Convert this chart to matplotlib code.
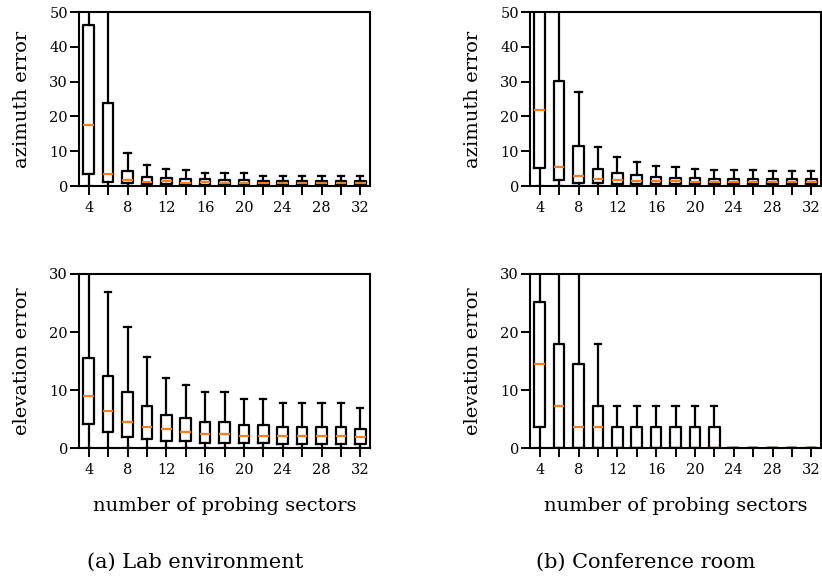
import matplotlib
matplotlib.use('Agg')
import matplotlib.pyplot as plt

# numero de sectores (posicion de cada caja)
positions = [4, 6, 8, 10, 12, 14, 16, 18, 20, 22, 24, 26, 28, 30, 32]
tick_labels = ['4', '', '8', '', '12', '', '16', '', '20', '', '24', '', '28', '', '32']

# (a) Lab environment - azimuth
lab_az_lo = [0, 0, 0, 0, 0, 0, 0, 0, 0, 0, 0, 0, 0, 0, 0]
lab_az_q1 = [3.5, 1.1, 0.8, 0.6, 0.5, 0.4, 0.4, 0.3, 0.3, 0.3, 0.3, 0.3, 0.3, 0.3, 0.3]
lab_az_med = [17.4, 3.5, 1.7, 1.2, 1.4, 0.95, 1.2, 0.9, 0.9, 0.95, 0.95, 0.95, 0.95, 0.95, 0.95]
lab_az_q3 = [46.4, 23.9, 4.4, 2.7, 2.2, 2.0, 2.0, 1.8, 1.8, 1.5, 1.5, 1.5, 1.5, 1.5, 1.5]
lab_az_hi = [80, 60, 9.4, 5.9, 5.0, 4.5, 3.7, 3.7, 3.7, 2.8, 2.8, 2.8, 2.8, 2.8, 2.8]

# (a) Lab environment - elevation
lab_el_lo = [0, 0, 0, 0, 0, 0, 0, 0, 0, 0, 0, 0, 0, 0, 0]
lab_el_q1 = [4.1, 2.8, 1.9, 1.5, 1.2, 1.2, 0.9, 0.9, 0.8, 0.8, 0.7, 0.7, 0.7, 0.7, 0.7]
lab_el_med = [8.9, 6.4, 4.4, 3.6, 3.2, 2.8, 2.5, 2.4, 2.1, 2.1, 2.0, 2.0, 2.0, 2.0, 1.95]
lab_el_q3 = [15.6, 12.5, 9.6, 7.3, 5.7, 5.2, 4.4, 4.4, 4.0, 4.0, 3.7, 3.7, 3.7, 3.7, 3.3]
lab_el_hi = [35, 26.9, 20.9, 15.7, 12.1, 10.8, 9.6, 9.6, 8.4, 8.4, 7.7, 7.7, 7.7, 7.7, 6.9]

# (b) Conference room - azimuth
conf_az_lo = [0, 0, 0, 0, 0, 0, 0, 0, 0, 0, 0, 0, 0, 0, 0]
conf_az_q1 = [5.3, 1.7, 1.0, 0.9, 0.7, 0.6, 0.5, 0.5, 0.5, 0.5, 0.5, 0.5, 0.5, 0.5, 0.5]
conf_az_med = [21.8, 5.4, 2.9, 2.0, 1.7, 1.5, 1.4, 1.3, 1.2, 1.2, 1.2, 1.2, 1.2, 1.2, 1.2]
conf_az_q3 = [70, 30.3, 11.6, 5.0, 3.7, 3.2, 2.5, 2.3, 2.2, 2.1, 2.1, 2.1, 2.1, 2.1, 2.1]
conf_az_hi = [100, 60, 27.0, 11.2, 8.3, 6.9, 5.8, 5.4, 4.9, 4.6, 4.5, 4.5, 4.3, 4.3, 4.3]

# (b) Conference room - elevation
conf_el_lo = [0, 0, 0, 0, 0, 0, 0, 0, 0, 0, 0, 0, 0, 0, 0]
conf_el_q1 = [3.6, 0, 0, 0, 0, 0, 0, 0, 0, 0, 0, 0, 0, 0, 0]
conf_el_med = [14.4, 7.2, 3.6, 3.6, 0, 0, 0, 0, 0, 0, 0, 0, 0, 0, 0]
conf_el_q3 = [25.2, 18.0, 14.4, 7.2, 3.6, 3.6, 3.6, 3.6, 3.6, 3.6, 0, 0, 0, 0, 0]
conf_el_hi = [40, 40, 40, 18.0, 7.2, 7.2, 7.2, 7.2, 7.2, 7.2, 0, 0, 0, 0, 0]

plt.rcParams['font.family'] = ['DejaVu Serif']
plt.rcParams['font.size'] = 11


def makeStats(lo, q1, med, q3, hi):
    # arma la lista de diccionarios que pide bxp
    stats = []
    for i in range(len(med)):
        stats.append({'whislo': lo[i], 'q1': q1[i], 'med': med[i],
                      'q3': q3[i], 'whishi': hi[i], 'fliers': []})
    return stats


def drawBox(ax, stats, ymax, ylabel, xlabel=None):
    black = dict(color='black', linewidth=1.6)
    ax.bxp(stats, positions=positions, widths=1.1, capwidths=0.65,
           showfliers=False,
           boxprops=black, whiskerprops=black, capprops=black,
           medianprops=dict(color='#ff7f0e', linewidth=1.6))
    ax.set_xlim(3, 33)
    ax.set_ylim(0, ymax)
    ax.set_yticks(range(0, ymax + 1, 10))
    ax.set_xticks(positions)
    ax.set_xticklabels(tick_labels)
    ax.set_ylabel(ylabel, fontsize=14)
    ax.yaxis.set_label_coords(-0.165, 0.5)
    if xlabel:
        ax.set_xlabel(xlabel, fontsize=14)
        ax.xaxis.set_label_coords(0.5, -0.28)
    ax.tick_params(axis='x', direction='out', length=6.5, width=1.4, pad=4, labelsize=10.5)
    ax.tick_params(axis='y', direction='out', length=6.5, width=1.4, pad=1.5, labelsize=10.5)
    for s in ax.spines.values():
        s.set_linewidth(1.5)
    return


fig = plt.figure(figsize=(8.22, 5.8), dpi=100)

ax1 = fig.add_axes([79 / 822, 394 / 580, 291 / 822, 174 / 580])
ax2 = fig.add_axes([530 / 822, 394 / 580, 291 / 822, 174 / 580])
ax3 = fig.add_axes([79 / 822, 132 / 580, 291 / 822, 174 / 580])
ax4 = fig.add_axes([530 / 822, 132 / 580, 291 / 822, 174 / 580])

drawBox(ax1, makeStats(lab_az_lo, lab_az_q1, lab_az_med, lab_az_q3, lab_az_hi), 50, 'azimuth error')
drawBox(ax2, makeStats(conf_az_lo, conf_az_q1, conf_az_med, conf_az_q3, conf_az_hi), 50, 'azimuth error')
drawBox(ax3, makeStats(lab_el_lo, lab_el_q1, lab_el_med, lab_el_q3, lab_el_hi), 30, 'elevation error',
        'number of probing sectors')
drawBox(ax4, makeStats(conf_el_lo, conf_el_q1, conf_el_med, conf_el_q3, conf_el_hi), 30, 'elevation error',
        'number of probing sectors')

# subtitulos de cada sub-figura
fig.text(195 / 822, 1 - 562 / 580, '(a) Lab environment', ha='center', va='center', fontsize=15)
fig.text(646 / 822, 1 - 562 / 580, '(b) Conference room', ha='center', va='center', fontsize=15)

fig.savefig('out.png', dpi=100)
